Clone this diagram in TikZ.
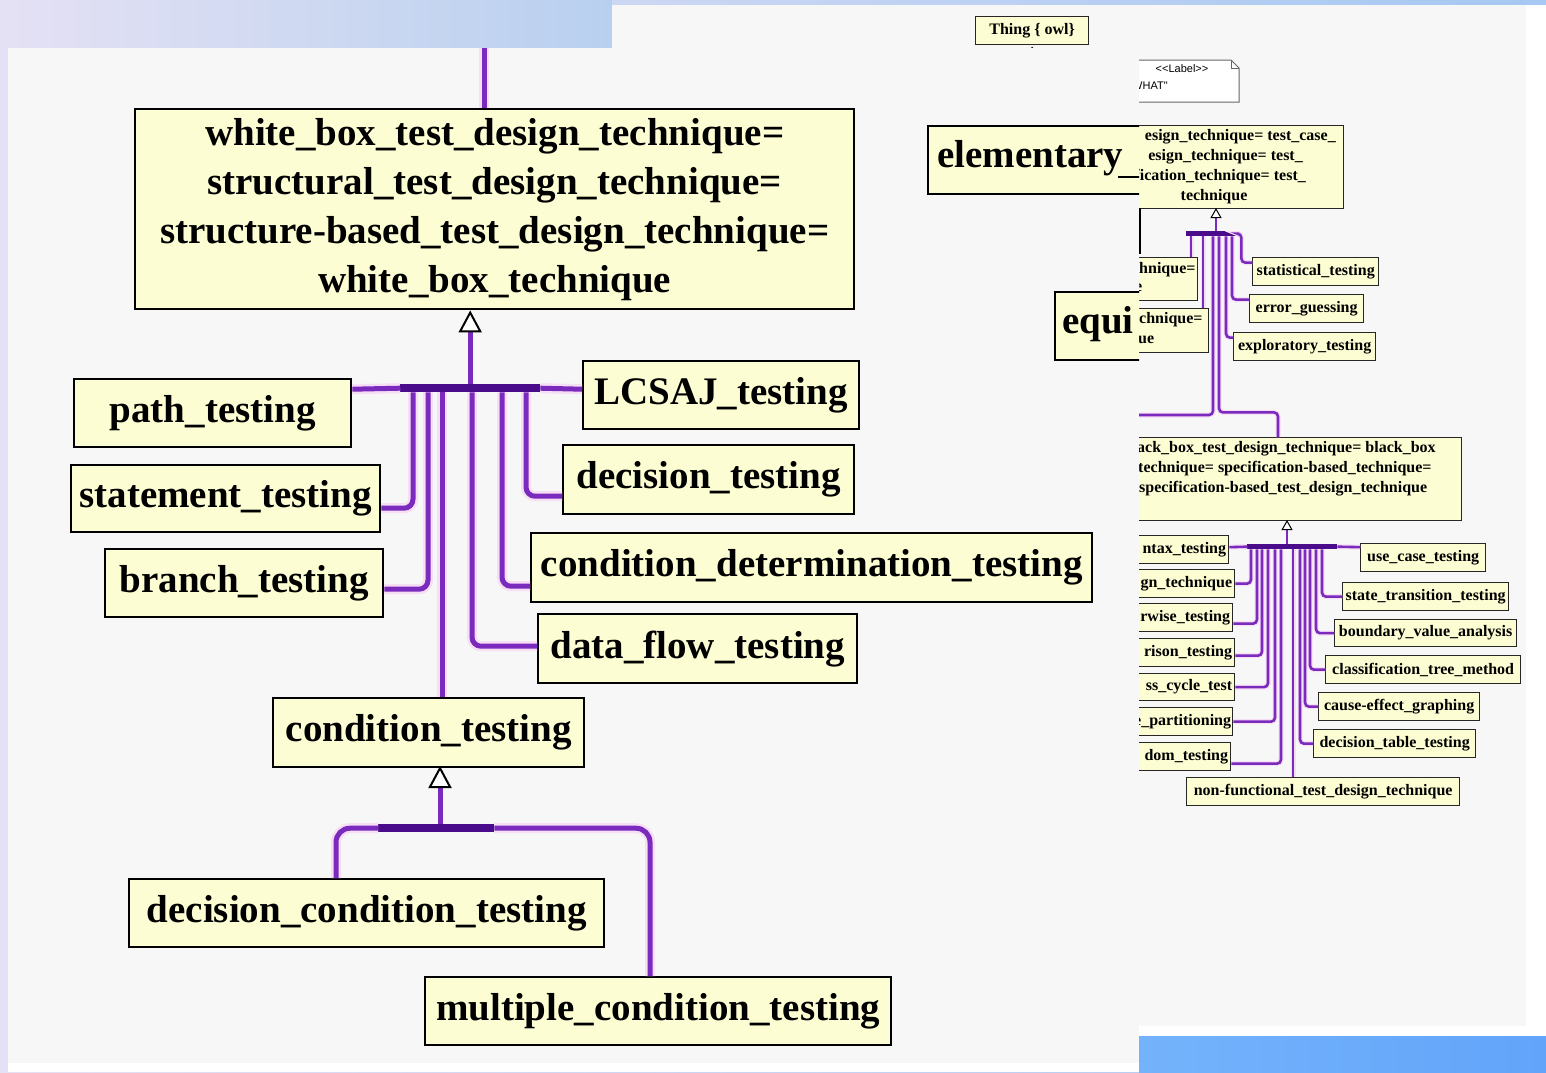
\documentclass[tikz,border=0pt]{standalone}
\usepackage{fontspec}
\setmainfont{Liberation Serif}
\newfontfamily\notesans{Liberation Sans}
\usetikzlibrary{arrows.meta}
\definecolor{boxfill}{HTML}{FDFDD3}
\definecolor{panel}{HTML}{F7F7F7}
\definecolor{violetline}{HTML}{7A2ABC}
\definecolor{bardark}{HTML}{4A0C8A}
\definecolor{halo}{HTML}{F6DEF5}
\definecolor{bgleft}{HTML}{E5E1F4}
\definecolor{bgmid}{HTML}{B8D0EF}
\definecolor{bgright}{HTML}{A6C8F2}
\definecolor{bandleft}{HTML}{74B3FB}
\definecolor{bandright}{HTML}{62A4FA}
\newcommand\bigtxt{\fontsize{39}{49}\selectfont\bfseries}
\newcommand\smalltxt{\fontsize{16}{20}\selectfont\bfseries}
\tikzset{
  bigbox/.style={draw=black, line width=2.4pt, fill=boxfill, inner sep=0pt, anchor=north west, font=\bigtxt, align=center},
  smallbox/.style={draw=black!85, line width=1.3pt, fill=boxfill, inner sep=0pt, anchor=north west, font=\smalltxt},
  frag/.style={inner sep=0pt, font=\smalltxt},
  bigfrag/.style={inner sep=0pt, font=\bigtxt},
  barnode/.style={fill=bardark, draw=none, inner sep=0pt, anchor=north west},
  conn/.style={draw=violetline, line width=5pt, rounded corners=9pt, preaction={draw=halo, line width=10pt}},
  sconn/.style={draw=violetline, line width=2.6pt, rounded corners=4pt, preaction={draw=halo, line width=5pt}},
  bigstem/.style={draw=violetline, line width=5pt, -{Triangle[fill=white, color=black, length=22pt, width=23pt, line width=2pt]}},
  smallstem/.style={draw=violetline, line width=2.6pt, -{Triangle[fill=white, color=black, length=10pt, width=11pt, line width=1pt]}},
}
\begin{document}
\begin{tikzpicture}[x=1pt,y=-1pt]
\useasboundingbox (0,0) rectangle (1546,1072);
% backdrop
\shade[left color=bgleft, right color=bgright] (0,0) rectangle (1546,1072);
\shade[left color=bgleft, right color=bgmid] (0,0) rectangle (612,48);
\fill[white] (612,5) rectangle (1546,1036);
\fill[panel] (612,5) rectangle (1526,1026);

% ---------- small-scale overview ----------
\node[smallbox, minimum width=113pt, minimum height=28pt] (thing) at (975,16) {Thing \{ owl\}};
\draw[black, line width=0.8pt] ([xshift=-4pt,yshift=-7pt]thing.south) -- ([yshift=-2pt]thing.south) -- ([xshift=4pt,yshift=-7pt]thing.south);

\draw[draw=black!60, line width=1pt, fill=white] (1100,60) -- (1231,60) -- (1239,68) -- (1239,102) -- (1100,102) -- cycle;
\draw[black!60, line width=1pt] (1231,60) -- (1231,68) -- (1239,68);
\node[font=\notesans\fontsize{11}{13}\selectfont, inner sep=0pt] (lab) at (1182,69) {<\kern0pt<Label>\kern0pt>};
\node[font=\notesans\fontsize{11}{13}\selectfont, inner sep=0pt, anchor=west] (what) at (1132,86) {WHAT"};

\node[smallbox, minimum width=258pt, minimum height=83pt] (tdt) at (1085,125) {};
\node[frag, anchor=east] (t1) at (1336,137) {esign\_technique= test\_case\_};
\node[frag, anchor=east] (t2) at (1303,157) {esign\_technique= test\_};
\node[frag, anchor=east] (t3) at (1306,177) {ification\_technique= test\_};
\node[frag] (t4) at (1214,197) {technique};
\draw[black, line width=2pt] (1140,208) -- (1140,254);

\node[barnode, minimum width=53pt, minimum height=5pt] (b3) at (1186,231) {};
\node[smallbox, minimum width=97pt, minimum height=43pt] (r1) at (1100,257) {};
\node[frag, anchor=west] (r1a) at (1139,270) {hnique=};
\node[frag, anchor=west] (r1b) at (1135,288) {e};
\node[smallbox, minimum width=108pt, minimum height=44pt] (r2) at (1100,308) {};
\node[frag, anchor=west] (r2a) at (1139,320) {chnique=};
\node[frag, anchor=west] (r2b) at (1138,340) {ue};
\node[smallbox, minimum width=126pt, minimum height=28pt] (sa) at (1252,257) {statistical\_testing};
\node[smallbox, minimum width=114pt, minimum height=28pt] (eg) at (1249,294) {error\_guessing};
\node[smallbox, minimum width=142pt, minimum height=28pt] (ex) at (1233,332) {exploratory\_testing};

\node[smallbox, minimum width=361pt, minimum height=83pt] (bb) at (1100,437) {};
\node[frag, anchor=west] (bb1) at (1137,449) {ack\_box\_test\_design\_technique= black\_box};
\node[frag, anchor=west] (bb2) at (1138,469) {technique= specification-based\_technique=};
\node[frag, anchor=west] (bb3) at (1139,489) {specification-based\_test\_design\_technique};

\coordinate (leftout) at (1100,415);
\draw[smallstem] ([xshift=30pt]b3.north west) -- ++(0,-23);
\draw[sconn] ([xshift=5pt]b3.south west) -- ++(0,21);
\draw[sconn] ([xshift=17pt]b3.south west) -- ++(0,72);
\draw[sconn] ([xshift=27pt]b3.south west) |- (leftout);
\draw[sconn] ([xshift=33pt]b3.south west) -- ++(0,176) -| ([xshift=178pt]bb.north west);
\draw[sconn] ([xshift=40pt]b3.south west) |- ([yshift=9pt]ex.west);
\draw[sconn] ([xshift=46pt]b3.south west) |- ([yshift=9pt]eg.west);
\draw[sconn] (b3.east) -- ++(2,0) |- ([yshift=9pt]sa.west);

\node[barnode, minimum width=90pt, minimum height=5pt] (b4) at (1247,544) {};
\node[smallbox, minimum width=128pt, minimum height=28pt] (L1) at (1100,535) {};
\node[frag, anchor=east] (L1t) at ([xshift=-3pt]L1.east) {ntax\_testing};
\node[smallbox, minimum width=134pt, minimum height=28pt] (L2) at (1100,569) {};
\node[frag, anchor=east] (L2t) at ([xshift=-3pt]L2.east) {gn\_technique};
\node[smallbox, minimum width=132pt, minimum height=28pt] (L3) at (1100,603) {};
\node[frag, anchor=east] (L3t) at ([xshift=-3pt]L3.east) {rwise\_testing};
\node[smallbox, minimum width=134pt, minimum height=28pt] (L4) at (1100,638) {};
\node[frag, anchor=east] (L4t) at ([xshift=-3pt]L4.east) {rison\_testing};
\node[smallbox, minimum width=134pt, minimum height=27pt] (L5) at (1100,673) {};
\node[frag, anchor=east] (L5t) at ([xshift=-3pt]L5.east) {ss\_cycle\_test};
\node[smallbox, minimum width=132pt, minimum height=28pt] (L6) at (1100,707) {};
\node[frag, anchor=east] (L6t) at ([xshift=-2pt]L6.east) {e\_partitioning};
\node[smallbox, minimum width=130pt, minimum height=28pt] (L7) at (1100,742) {};
\node[frag, anchor=east] (L7t) at ([xshift=-3pt]L7.east) {dom\_testing};
\node[smallbox, minimum width=273pt, minimum height=28pt] (nf) at (1186,777) {non-functional\_test\_design\_technique};
\node[smallbox, minimum width=125pt, minimum height=28pt] (R1) at (1360,543) {use\_case\_testing};
\node[smallbox, minimum width=166pt, minimum height=28pt] (R2) at (1342,582) {state\_transition\_testing};
\node[smallbox, minimum width=182pt, minimum height=27pt] (R3) at (1334,619) {boundary\_value\_analysis};
\node[smallbox, minimum width=195pt, minimum height=28pt] (R4) at (1325,655) {classification\_tree\_method};
\node[smallbox, minimum width=161pt, minimum height=28pt] (R5) at (1318,692) {cause-effect\_graphing};
\node[smallbox, minimum width=162pt, minimum height=28pt] (R6) at (1313,729) {decision\_table\_testing};

\draw[smallstem] ([xshift=40pt]b4.north west) -- ++(0,-24);
\draw[sconn] ([yshift=2.5pt]L1.east) -- (b4.west);
\draw[sconn] ([xshift=4pt]b4.south west) |- (L2.east);
\draw[sconn] ([xshift=10pt]b4.south west) |- ([yshift=-6pt]L3.east);
\draw[sconn] ([xshift=15pt]b4.south west) |- ([yshift=-3pt]L4.east);
\draw[sconn] ([xshift=21pt]b4.south west) |- (L5.east);
\draw[sconn] ([xshift=28pt]b4.south west) |- (L6.east);
\draw[sconn] ([xshift=34pt]b4.south west) |- ([yshift=-7pt]L7.east);
\draw[sconn] ([xshift=46pt]b4.south west) -- ++(0,228);
\draw[sconn] ([xshift=53pt]b4.south west) |- (R6.west);
\draw[sconn] ([xshift=58pt]b4.south west) |- (R5.west);
\draw[sconn] ([xshift=63pt]b4.south west) |- (R4.west);
\draw[sconn] ([xshift=69pt]b4.south west) |- (R3.west);
\draw[sconn] ([xshift=75pt]b4.south west) |- (R2.west);
\draw[sconn] (b4.east) -- ([yshift=10.5pt]R1.west);

% bottom band
\shade[left color=bandleft, right color=bandright] (1139,1036) rectangle (1546,1072);
\fill[white] (8,1063) rectangle (1139,1072);

% ---------- enlarged detail ----------
\begin{scope}
\clip (8,48) rectangle (1139,1063);
\fill[panel] (8,48) rectangle (1139,1063);

\node[bigbox, minimum width=719pt, minimum height=200pt] (wb) at (134,108)
  {white\_box\_test\_design\_technique=\\structural\_test\_design\_technique=\\structure-based\_test\_design\_technique=\\white\_box\_technique};
\node[bigbox, minimum width=277pt, minimum height=68pt] (pt) at (73,378) {path\_testing};
\node[bigbox, minimum width=276pt, minimum height=68pt] (lc) at (582,360) {LCSAJ\_testing};
\node[bigbox, minimum width=309pt, minimum height=67pt] (st) at (70,464) {statement\_testing};
\node[bigbox, minimum width=291pt, minimum height=69pt] (dt) at (562,444) {decision\_testing};
\node[bigbox, minimum width=278pt, minimum height=68pt] (br) at (104,548) {branch\_testing};
\node[bigbox, minimum width=561pt, minimum height=69pt] (cd) at (530,532) {condition\_determination\_testing};
\node[bigbox, minimum width=319pt, minimum height=69pt] (df) at (537,613) {data\_flow\_testing};
\node[bigbox, minimum width=311pt, minimum height=69pt] (ct) at (272,697) {condition\_testing};
\node[bigbox, minimum width=475pt, minimum height=68pt] (dc) at (128,878) {decision\_condition\_testing};
\node[bigbox, minimum width=466pt, minimum height=68pt] (mc) at (424,976) {multiple\_condition\_testing};

\node[bigbox, minimum width=240pt, minimum height=68pt] (el) at (927,125) {};
\node[bigfrag, anchor=west] (elt) at (937,158) {elementary};
\draw[black, line width=2.5pt] (el.north west) ++(191,52) -- ++(24,0);
\node[bigbox, minimum width=120pt, minimum height=68pt] (eq) at (1054,291) {};
\node[bigfrag, anchor=west] (eqt) at (1062,324) {equi};

\node[barnode, minimum width=140pt, minimum height=8pt] (b1) at (400,384) {};
\node[barnode, minimum width=116pt, minimum height=8pt] (b2) at (378,824) {};

\coordinate (wbtop) at (484,40);
\draw[conn] (wbtop) -- (wbtop |- wb.north);
\draw[bigstem] (b1.north) -- (b1.north |- wb.south);
\draw[conn] ([yshift=24pt]pt.east) -- (b1.west);
\draw[conn] (b1.east) -- ([yshift=6pt]lc.west);
\draw[conn] ([xshift=13pt]b1.south west) |- ([yshift=-9.5pt]st.east);
\draw[conn] ([xshift=28pt]b1.south west) |- ([yshift=-6pt]br.east);
\draw[conn] ([xshift=42pt]b1.south west) -- ++(0,305);
\draw[conn] ([xshift=72pt]b1.south west) |- ([yshift=2.5pt]df.west);
\draw[conn] ([xshift=102pt]b1.south west) |- ([yshift=-18.5pt]cd.west);
\draw[conn] ([xshift=126pt]b1.south west) |- ([yshift=-16.5pt]dt.west);

\draw[bigstem] ([xshift=62pt]b2.north west) -- ++(0,-58);
\draw[conn, rounded corners=14pt] (b2.west) -| ([xshift=208pt]dc.north west);
\draw[conn, rounded corners=14pt] (b2.east) -| ([xshift=226pt]mc.north west);
\end{scope}
\end{tikzpicture}
\end{document}
